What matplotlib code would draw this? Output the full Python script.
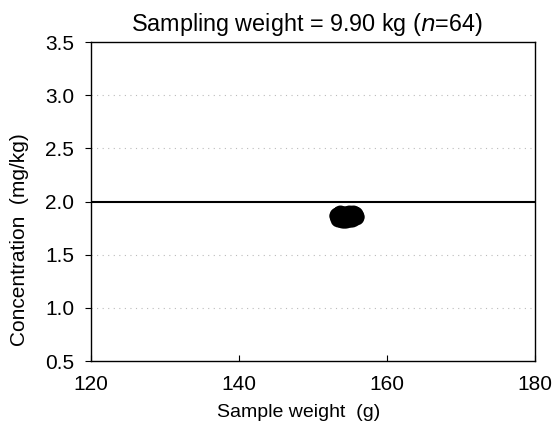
import matplotlib
matplotlib.use("Agg")
import matplotlib.pyplot as plt

sample_weight = [
    153.2, 153.4, 153.6, 153.8, 154.0, 154.2, 154.4, 154.6, 154.8, 155.0, 155.2, 155.4, 155.6, 155.8, 153.5, 154.1,
    153.3, 153.7, 153.9, 154.3, 154.5, 154.7, 154.9, 155.1, 155.3, 155.5, 155.7, 153.6, 154.0, 154.4, 154.8, 155.2,
    153.4, 153.8, 154.2, 154.6, 155.0, 155.4, 155.8, 153.5, 153.9, 154.3, 154.7, 155.1, 155.5, 153.7, 154.1, 154.5,
    154.9, 155.3, 153.6, 154.0, 154.4, 154.8, 155.2, 155.6, 153.8, 154.2, 154.6, 155.0, 154.3, 154.7, 155.1, 154.5,
]
concentration = [
    1.86, 1.85, 1.84, 1.87, 1.86, 1.85, 1.88, 1.86, 1.87, 1.86, 1.88, 1.89, 1.87, 1.85, 1.88, 1.84,
    1.87, 1.89, 1.83, 1.86, 1.84, 1.88, 1.85, 1.87, 1.85, 1.86, 1.88, 1.86, 1.88, 1.83, 1.89, 1.86,
    1.84, 1.86, 1.87, 1.85, 1.84, 1.87, 1.86, 1.85, 1.88, 1.87, 1.84, 1.86, 1.88, 1.86, 1.85, 1.87,
    1.86, 1.88, 1.87, 1.84, 1.86, 1.85, 1.84, 1.87, 1.85, 1.83, 1.88, 1.87, 1.85, 1.86, 1.85, 1.84,
]
reference_value = 2.0
title = "Sampling weight = 9.90 kg ($n$=64)"
x_ticks = [120, 140, 160, 180]
y_ticks = [0.5, 1.0, 1.5, 2.0, 2.5, 3.0, 3.5]

plt.rcParams['font.family'] = ['Liberation Sans', 'DejaVu Sans']
fig = plt.figure(figsize=(5.53, 4.34), dpi=100)
ax = fig.add_axes([0.1646, 0.1682, 0.8029, 0.735])

for y in [1.0, 1.5, 2.5, 3.0]:
    ax.axhline(y, color='#bbbbbb', linestyle=(0, (1, 4)), linewidth=0.8, zorder=0)
ax.axhline(reference_value, color='black', linewidth=1.5, zorder=2)
ax.scatter(sample_weight, concentration, s=110, color='black', zorder=3)

ax.set_xlim(120, 180)
ax.set_ylim(0.5, 3.5)
ax.set_xticks(x_ticks)
ax.set_yticks(y_ticks)
ax.set_yticklabels([f"{v:.1f}" for v in y_ticks])
ax.tick_params(axis='x', direction='in', length=4, labelsize=15, pad=10)
ax.tick_params(axis='y', direction='out', length=4, labelsize=15, pad=8)
for s in ax.spines.values():
    s.set_linewidth(1.0)
ax.set_xlabel("Sample weight  (g)", fontsize=14)
ax.set_ylabel("Concentration  (mg/kg)", fontsize=15)
ax.xaxis.set_label_coords(0.468, -0.135)
ax.yaxis.set_label_coords(-0.139, 0.38)
ax.set_title(title, fontsize=16.8, pad=8, x=0.486)

fig.savefig("out.png", dpi=100)
